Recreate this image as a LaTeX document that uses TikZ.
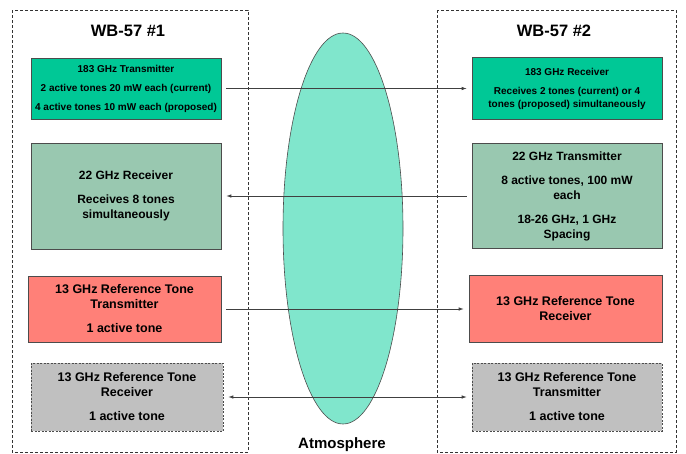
\documentclass[tikz,border=0pt]{standalone}
\usepackage{fontspec}
\setmainfont{Liberation Sans}
\usetikzlibrary{arrows.meta}

\definecolor{txgreen}{RGB}{0,200,150}
\definecolor{rxgreen}{RGB}{153,200,176}
\definecolor{refred}{RGB}{255,128,120}
\definecolor{refgray}{RGB}{192,192,192}
\definecolor{atmocol}{RGB}{128,230,204}

\begin{document}
\begin{tikzpicture}[
    font=\bfseries,
    frame/.style={draw=black!80, line width=0.6pt, dash pattern=on 3pt off 2pt},
    unit/.style={draw=black!70, line width=0.6pt, align=center, inner sep=0pt},
    hf/.style={unit, fill=txgreen, font=\bfseries\fontsize{10}{13}\selectfont},
    lf/.style={unit, fill=rxgreen, font=\bfseries\fontsize{12}{15}\selectfont},
    ref/.style={unit, fill=refred, font=\bfseries\fontsize{12.5}{15}\selectfont},
    spare/.style={unit, fill=refgray, dash pattern=on 2pt off 1.5pt, font=\bfseries\fontsize{12.5}{15}\selectfont},
    arr/.style={draw=black!75, line width=0.7pt, shorten <=5pt, shorten >=5pt},
  ]
    \def\x{1pt}
    \def\y{-1pt}
    \useasboundingbox (0*\x,0*\y) rectangle (686*\x,453*\y);
    % the two aircraft
    \draw[frame] (12*\x,10*\y) rectangle (248*\x,452*\y);
    \draw[frame] (437*\x,10*\y) rectangle (676*\x,452*\y);
    \node[font=\bfseries\fontsize{16.5}{18}\selectfont] (T0) at (128*\x, 31*\y) {WB-57 \#1};
    \node[font=\bfseries\fontsize{16.5}{18}\selectfont] (T2) at (554*\x, 31*\y) {WB-57 \#2};
    % atmosphere
    \draw[draw=black!70, line width=0.6pt, fill=atmocol] (343*\x,228.5*\y) ellipse [x radius=60pt, y radius=195.5pt];
    \node[font=\bfseries\fontsize{15}{17}\selectfont] (T1) at (342*\x, 445*\y) {Atmosphere};
    % instruments
    \node[hf, minimum width=190pt, minimum height=61pt] (A1_0) at (126*\x, 88.5*\y)
      {183 GHz Transmitter\\[6pt]2 active tones 20 mW each (current)\\[6pt]4 active tones 10 mW each (proposed)};
    \node[hf, minimum width=190pt, minimum height=62pt] (A1_2) at (567*\x, 88.5*\y)
      {183 GHz Receiver\\[6pt]Receives 2 tones (current) or 4\\tones (proposed) simultaneously};
    \node[lf, minimum width=190pt, minimum height=106pt] (A2_0) at (126*\x, 196*\y)
      {22 GHz Receiver\\[9pt]Receives 8 tones\\simultaneously};
    \node[lf, minimum width=190pt, minimum height=105pt] (A2_2) at (567*\x, 196*\y)
      {22 GHz Transmitter\\[9pt]8 active tones, 100 mW\\each\\[9pt]18-26 GHz, 1 GHz\\Spacing};
    \node[ref, minimum width=193pt, minimum height=66pt] (A3_0) at (124.5*\x, 309*\y)
      {13 GHz Reference Tone\\Transmitter\\[9pt]1 active tone};
    \node[ref, minimum width=193pt, minimum height=67pt] (A3_2) at (565.5*\x, 309*\y)
      {13 GHz Reference Tone\\Receiver};
    \node[spare, minimum width=192pt, minimum height=68pt] (A4_0) at (127*\x, 397*\y)
      {13 GHz Reference Tone\\Receiver\\[9pt]1 active tone};
    \node[spare, minimum width=190pt, minimum height=68pt] (A4_2) at (567*\x, 397*\y)
      {13 GHz Reference Tone\\Transmitter\\[9pt]1 active tone};
    % links
    \path (A1_0) edge [arr,-{Latex[length=5pt,width=3.5pt]}] (A1_2);
    \path (A2_2) edge [arr,-{Latex[length=5pt,width=3.5pt]}] (A2_0);
    \path (A3_0) edge [arr,-{Latex[length=5pt,width=3.5pt]}] (A3_2);
    \path (A4_0) edge [arr,{Latex[length=5pt,width=3.5pt]}-{Latex[length=5pt,width=3.5pt]}] (A4_2);
  \end{tikzpicture}
\end{document}
